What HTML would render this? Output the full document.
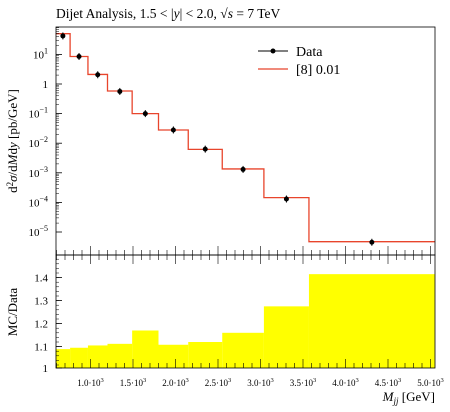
<!DOCTYPE html>
<html><head><meta charset="utf-8"><style>
body{margin:0;background:#fff;}
svg text{font-family:"Liberation Serif",serif;fill:#000;}
</style></head><body>
<svg id="chart" width="450" height="407" xmlns="http://www.w3.org/2000/svg">
<text x="56" y="18" font-size="13.5">Dijet Analysis, 1.5 &lt; |<tspan font-style="italic">y</tspan>| &lt; 2.0, √<tspan font-style="italic">s</tspan> = 7 TeV</text>
<g id="topG"></g><g id="botG"></g>
<rect x="56" y="27" width="379" height="228" fill="none" stroke="#000" stroke-width="0.8"/>
<rect x="56" y="255" width="379" height="113" fill="none" stroke="#000" stroke-width="0.8"/>
<text transform="translate(17,141) rotate(-90)" text-anchor="middle" font-size="13">d<tspan dy="-4" font-size="9">2</tspan><tspan dy="4" font-style="italic">σ</tspan>/d<tspan font-style="italic">M</tspan>d<tspan font-style="italic">y</tspan> [pb/GeV]</text>
<text transform="translate(17,312) rotate(-90)" text-anchor="middle" font-size="13">MC/Data</text>
<text x="435" y="401" text-anchor="end" font-size="13"><tspan font-style="italic">M<tspan font-size="9" dy="3">jj</tspan></tspan><tspan dy="-3"> [GeV]</tspan></text>
<g>
<line x1="258" y1="51" x2="288" y2="51" stroke="#000" stroke-width="1"/>
<circle cx="273" cy="51" r="2.5" fill="#000"/>
<text x="296" y="56" font-size="14">Data</text>
<line x1="258" y1="69" x2="288" y2="69" stroke="#e8452c" stroke-width="1.3"/>
<text x="296" y="74" font-size="14">[8] 0.01</text>
</g>
</svg>
<script>
const edges=[590,760,970,1200,1490,1800,2150,2550,3040,3570,5050];
const mcVals=[50,8.5,2.1,0.58,0.1,0.028,0.0062,0.00135,0.000145,0.0000047];
const dataVals=[42,8.5,2.05,0.56,0.1,0.028,0.0063,0.0013,0.00013,0.0000045];
const ratioVals=[1.089,1.095,1.105,1.112,1.17,1.108,1.12,1.16,1.275,1.415];
const xTicks=[1000,1500,2000,2500,3000,3500,4000,4500,5000];
const xTickLabels=["1.0","1.5","2.0","2.5","3.0","3.5","4.0","4.5","5.0"];
const yExps=[-5,-4,-3,-2,-1,0,1];
const rTicks=[1,1.1,1.2,1.3,1.4];
const NS="http://www.w3.org/2000/svg";
const X=m=>90.5+(m-1000)*0.085;
const Y=v=>84-Math.log10(v)*29.6;
const R=r=>369.6-(r-1)*230;
const topG=document.getElementById('topG'),botG=document.getElementById('botG');
function mk(p,t,a){const e=document.createElementNS(NS,t);for(const k in a)e.setAttribute(k,a[k]);p.appendChild(e);return e;}
ratioVals.forEach((r,i)=>{const e=mk(botG,'rect',{x:X(edges[i]),y:R(r),width:X(edges[i+1])-X(edges[i]),height:368-R(r),fill:'#ffff00'});

});
let d='';mcVals.forEach((v,i)=>{d+=(i?'L':'M')+X(edges[i])+','+Y(v)+'L'+X(edges[i+1])+','+Y(v);});
const ln=mk(topG,'path',{d:d,fill:'none',stroke:'#e8452c','stroke-width':1.3});


dataVals.forEach((v,i)=>{const cx=X((edges[i]+edges[i+1])/2);
mk(topG,'line',{x1:cx,x2:cx,y1:Y(v)-3.5,y2:Y(v)+3.5,stroke:'#000'});
const c=mk(topG,'circle',{cx:cx,cy:Y(v),r:2.5,fill:'#000'});

});
yExps.forEach(e=>{const y=Y(Math.pow(10,e));
mk(topG,'line',{x1:56,x2:62,y1:y,y2:y,stroke:'#000','stroke-width':0.8});
for(let k=2;k<10;k++){const yy=Y(k*Math.pow(10,e));if(yy>27&&yy<255)mk(topG,'line',{x1:56,x2:59,y1:yy,y2:yy,stroke:'#000','stroke-width':0.5});}
const t=mk(topG,'text',{x:48,y:y+4,'text-anchor':'end','font-size':11});
if(e===0)t.textContent='1';else{t.textContent='10';const s=mk(t,'tspan',{dy:-5,'font-size':8});s.textContent=e===1?'1':'−'+(-e);}

});
rTicks.forEach(r=>{const y=Math.min(R(r),368);mk(botG,'line',{x1:56,x2:62,y1:y,y2:y,stroke:'#000','stroke-width':0.8});
const t=mk(botG,'text',{x:48,y:y+4,'text-anchor':'end','font-size':11});t.textContent=r===1?'1':r.toFixed(1);

});
for(let r=1.02;r<1.5;r+=0.02){mk(botG,'line',{x1:56,x2:59,y1:R(r),y2:R(r),stroke:'#000','stroke-width':0.5});}
for(let m=600;m<=5000;m+=100){const x=X(m),big=m%500===0,h=big?9:5;
mk(topG,'line',{x1:x,x2:x,y1:255,y2:255-h,stroke:'#000','stroke-width':0.6});
mk(botG,'line',{x1:x,x2:x,y1:255,y2:255+h,stroke:'#000','stroke-width':0.6});
mk(botG,'line',{x1:x,x2:x,y1:368,y2:368-h,stroke:'#000','stroke-width':0.6});}
xTicks.forEach((m,i)=>{const t=mk(botG,'text',{x:X(m),y:386,'text-anchor':'middle','font-size':9});
t.textContent=xTickLabels[i]+'·10';const s=mk(t,'tspan',{dy:-4,'font-size':6.5});s.textContent='3';

});
</script>
</body></html>
